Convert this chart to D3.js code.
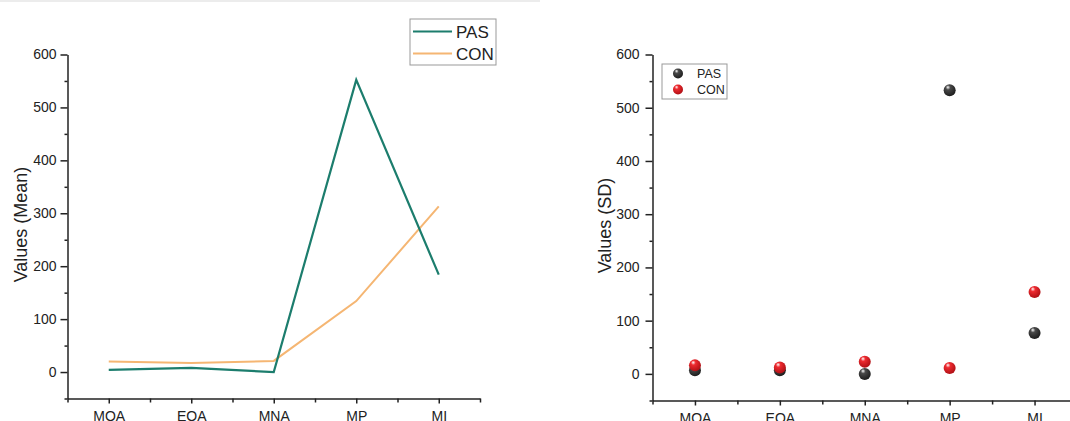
<!DOCTYPE html>
<html lang="en">
<head>
  <meta charset="UTF-8">
  <title>PAS vs CON</title>
  <script src="https://cdn.jsdelivr.net/npm/d3@7"></script>
  <style>
    body { margin: 0; background: #fff; }
    svg { display: block; font-family: "Liberation Sans", Arial, sans-serif; }
  </style>
</head>
<body>
  <div id="chart"></div>
  <script>
    // data
    const categories = ["MOA", "EOA", "MNA", "MP", "MI"];
    const meanPAS = [4, 8, 0, 552, 184];
    const meanCON = [20, 17, 21, 134, 313];
    const sdPAS = [7, 7, 0, 533, 77];
    const sdCON = [16, 12, 23, 11, 154];
    const yTicks = [0, 100, 200, 300, 400, 500, 600];
    const yMinor = [-50, 50, 150, 250, 350, 450, 550];

    const svg = d3.select("#chart").append("svg")
      .attr("width", 1070)
      .attr("height", 421);

    // faint strip at top of the original image
    svg.append("rect").attr("x", 0).attr("y", 0).attr("width", 540).attr("height", 2).attr("fill", "#ececec");

    const defs = svg.append("defs");
    function sphere(id, base, dark) {
      const g = defs.append("radialGradient").attr("id", id)
        .attr("cx", "40%").attr("cy", "35%").attr("r", "65%").attr("fx", "35%").attr("fy", "25%");
      g.append("stop").attr("offset", "0%").attr("stop-color", "#ffffff");
      g.append("stop").attr("offset", "30%").attr("stop-color", base);
      g.append("stop").attr("offset", "100%").attr("stop-color", dark);
    }
    sphere("gPAS", "#4a4a4a", "#1e1e1e");
    sphere("gCON", "#ee2b30", "#b01015");

    function panel(opt) {
      const x = d3.scaleLinear().domain([0.5, 5.5]).range([opt.left, opt.right]);
      const y = d3.scaleLinear().domain([-50, 600]).range([opt.bottom, opt.top]);
      const g = svg.append("g");

      // minor ticks
      g.append("g").attr("transform", `translate(0,${opt.bottom})`)
        .call(d3.axisBottom(x).tickValues([0.5, 1.5, 2.5, 3.5, 4.5, 5.5]).tickSize(4).tickFormat(""))
        .call(a => a.select(".domain").remove());
      g.append("g").attr("transform", `translate(${opt.left},0)`)
        .call(d3.axisLeft(y).tickValues(yMinor).tickSize(3).tickFormat(""))
        .call(a => a.select(".domain").remove());

      // major axes
      const xa = g.append("g").attr("transform", `translate(0,${opt.bottom})`)
        .call(d3.axisBottom(x).tickValues([1, 2, 3, 4, 5]).tickSize(5).tickPadding(8)
          .tickFormat(d => categories[d - 1]).tickSizeOuter(0));
      const ya = g.append("g").attr("transform", `translate(${opt.left},0)`)
        .call(d3.axisLeft(y).tickValues(yTicks).tickSize(7).tickPadding(opt.ypad).tickSizeOuter(0));
      [xa, ya].forEach(a => {
        a.selectAll("path, line").attr("stroke", "#222").attr("stroke-width", 1.5);
        a.selectAll("text").attr("font-size", 14).attr("fill", "#222").attr("font-family", null);
      });
      g.selectAll("line").attr("stroke", "#222").attr("stroke-width", 1.5);

      g.append("text")
        .attr("transform", `translate(${opt.titleX},${(opt.top + opt.bottom) / 2 - 2}) rotate(-90)`)
        .attr("text-anchor", "middle")
        .attr("dy", "0.35em")
        .attr("font-size", 18)
        .attr("fill", "#222")
        .text(opt.title);
      return { x, y, g };
    }

    // left: means as lines
    const L = panel({ left: 67.5, right: 480, top: 54.5, bottom: 398.5, ypad: 4, titleX: 21, title: "Values (Mean)" });
    const line = d3.line().x((d, i) => L.x(i + 1)).y(d => L.y(d));
    L.g.append("path").datum(meanCON).attr("d", line)
      .attr("fill", "none").attr("stroke", "#f5b673").attr("stroke-width", 2);
    L.g.append("path").datum(meanPAS).attr("d", line)
      .attr("fill", "none").attr("stroke", "#1c7d6d").attr("stroke-width", 2.2);

    const leg1 = svg.append("g").attr("transform", "translate(410,19)");
    leg1.append("rect").attr("width", 86).attr("height", 46)
      .attr("fill", "#fff").attr("stroke", "#999").attr("stroke-width", 1);
    [["PAS", "#1c7d6d", 12.5], ["CON", "#f5b673", 34.5]].forEach(([name, col, yy]) => {
      leg1.append("line").attr("x1", 3).attr("x2", 42).attr("y1", yy).attr("y2", yy)
        .attr("stroke", col).attr("stroke-width", 2.2);
      leg1.append("text").attr("x", 46).attr("y", yy).attr("dy", "0.36em")
        .attr("font-size", 17).attr("fill", "#222").text(name);
    });

    // right: SD as sphere markers
    const R = panel({ left: 652.5, right: 1077, top: 54.5, bottom: 400.5, ypad: 6, titleX: 605, title: "Values (SD)" });
    R.g.selectAll(".pas").data(sdPAS).join("circle")
      .attr("cx", (d, i) => R.x(i + 1)).attr("cy", d => R.y(d)).attr("r", 6)
      .attr("fill", "url(#gPAS)");
    R.g.selectAll(".con").data(sdCON).join("circle")
      .attr("cx", (d, i) => R.x(i + 1)).attr("cy", d => R.y(d)).attr("r", 6)
      .attr("fill", "url(#gCON)");

    const leg2 = svg.append("g").attr("transform", "translate(662,64)");
    leg2.append("rect").attr("width", 65).attr("height", 35)
      .attr("fill", "#fff").attr("stroke", "#999").attr("stroke-width", 1);
    [["PAS", "url(#gPAS)", 9.5], ["CON", "url(#gCON)", 25.5]].forEach(([name, fill, yy]) => {
      leg2.append("circle").attr("cx", 16).attr("cy", yy).attr("r", 5).attr("fill", fill);
      leg2.append("text").attr("x", 35).attr("y", yy).attr("dy", "0.36em")
        .attr("font-size", 12.5).attr("fill", "#222").text(name);
    });
  </script>
</body>
</html>
